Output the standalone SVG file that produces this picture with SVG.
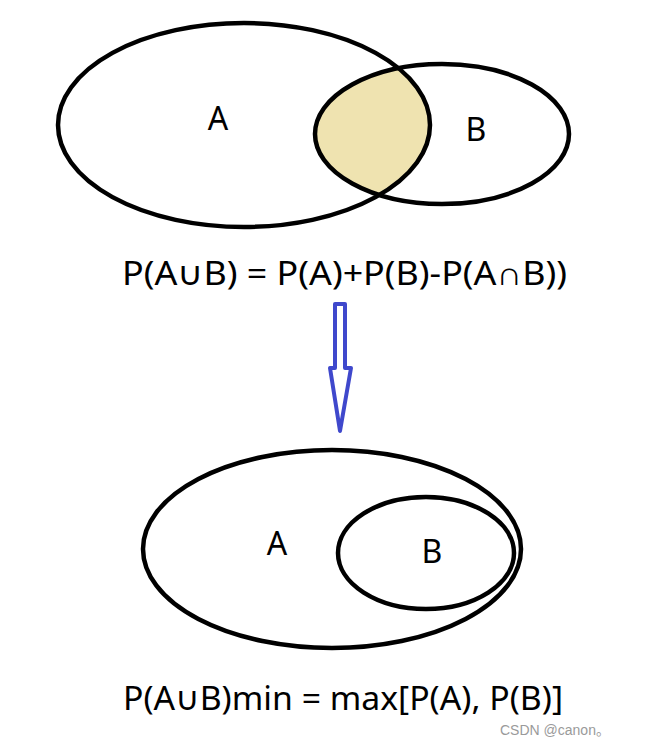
<svg xmlns="http://www.w3.org/2000/svg" width="655" height="742" viewBox="0 0 655 742">
<style>
.ell{fill:none;stroke:#000;stroke-width:4.5}
.lbl{font-family:"Noto Sans","Open Sans","Liberation Sans",sans-serif;font-size:32px;fill:#000;text-anchor:middle}
.eq{font-family:"Noto Sans","Open Sans","Liberation Sans",sans-serif;font-size:33px;fill:#000}
.cup{font-family:"DejaVu Sans",sans-serif}
.wm{font-family:"Liberation Sans",Arial,"Noto Sans CJK SC",sans-serif;font-size:14px;fill:#9a9a9a}
</style>
<defs>
<clipPath id="clipA"><ellipse cx="244" cy="125" rx="186" ry="102"/></clipPath>
</defs>
<rect width="655" height="742" fill="#fff"/>
<g id="top-venn">
<ellipse cx="442" cy="134" rx="127" ry="70" fill="#efe3b0" clip-path="url(#clipA)"/>
<ellipse class="ell" cx="244" cy="125" rx="186" ry="102"/>
<ellipse class="ell" cx="442" cy="134" rx="127" ry="70"/>
<text class="lbl" x="218" y="130">A</text>
<text class="lbl" x="476" y="141">B</text>
</g>
<text id="formula1" class="eq" x="122" y="285" textLength="445" lengthAdjust="spacingAndGlyphs">P(A∪B) = P(A)+P(B)-P(A∩B))</text>
<g id="connectors">
<path d="M335,368 L335,304 L345,304 L345,368 L351,368 L340,431 L330,368 Z" fill="#fff" stroke="#3f48cc" stroke-width="4" stroke-linejoin="round"/>
</g>
<g id="bottom-venn">
<ellipse class="ell" cx="332" cy="549" rx="189" ry="99"/>
<ellipse class="ell" cx="426" cy="553" rx="88" ry="56"/>
<text class="lbl" x="277" y="555">A</text>
<text class="lbl" x="432" y="563">B</text>
</g>
<text id="formula2" class="eq" x="123" y="710" textLength="440" lengthAdjust="spacingAndGlyphs">P(A∪B)min = max[P(A), P(B)]</text>
<text class="wm" x="500" y="735">CSDN @canon。</text>
</svg>
